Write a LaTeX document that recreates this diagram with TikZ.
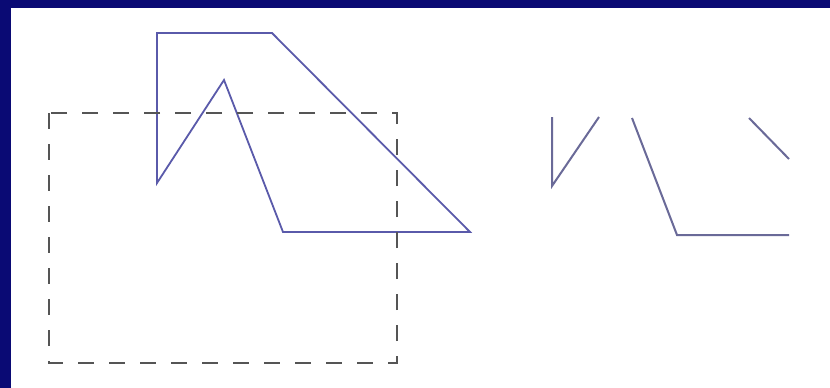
\documentclass[tikz,border=0pt]{standalone}
\usepackage{xcolor}
\usepackage{tikz}
\definecolor{darknavy}{HTML}{0A0A74}
\definecolor{polyblue}{HTML}{5A5AAA}
\definecolor{piecegray}{HTML}{6A6A98}
\definecolor{windowgray}{HTML}{555555}

\begin{document}
\begin{tikzpicture}[
  x=1pt, y=-1pt,
  frame/.style={fill=darknavy},
  poly/.style={draw=polyblue, line width=1.8pt, line join=miter},
  window/.style={draw=windowgray, line width=2.2pt, dash pattern=on 16pt off 15pt},
  piece/.style={draw=piecegray, line width=2pt}
]

\useasboundingbox (0,0) rectangle (830,388);
\fill[white] (0,0) rectangle (830,388);
\fill[frame] (0,0) rectangle (830,8);
\fill[frame] (0,0) rectangle (11,388);

\coordinate (p1) at (157,33);
\coordinate (p2) at (272,33);
\coordinate (p3) at (470,232);
\coordinate (p4) at (283,232);
\coordinate (p5) at (224,80);
\coordinate (p6) at (157,183);

\draw[poly] (p1) -- (p2) -- (p3) -- (p4) -- (p5) -- (p6) -- cycle;
\draw[window] (49,113) rectangle (397,363);

\draw[piece] (552,117) -- (552,186) -- (599,117);
\draw[piece] (632,118) -- (677,235) -- (789,235);
\draw[piece] (749,118) -- (789,159);

\end{tikzpicture}
\end{document}
